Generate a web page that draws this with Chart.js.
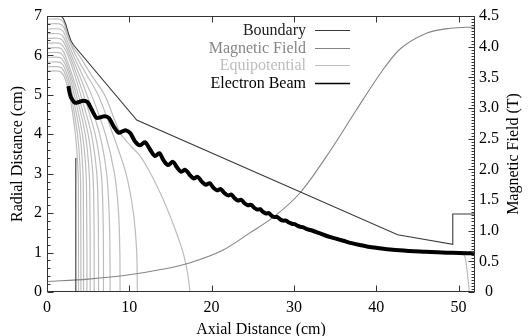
<!DOCTYPE html>
<html>
<head>
<meta charset="utf-8">
<script src="https://cdn.jsdelivr.net/npm/chart.js@4.4.0/dist/chart.umd.min.js"></script>
<style>
  html, body { margin: 0; padding: 0; background: #fff; }
  #canvas { display: block; }
</style>
</head>
<body>
<canvas id="canvas" width="528" height="336"></canvas>
<script>
// axis ticks
var xTicks = [0, 10, 20, 30, 40, 50];
var yTicks = [0, 1, 2, 3, 4, 5, 6, 7];
var fieldTicks = [0, 0.5, 1, 1.5, 2, 2.5, 3, 3.5, 4, 4.5];
var fieldLabels = ['0', '0.5', '1.0', '1.5', '2.0', '2.5', '3.0', '3.5', '4.0', '4.5'];

// [axial cm, radial cm]
var boundary = [[0, 7], [1.7, 7], [2.0, 6.93], [2.3, 6.78], [2.6, 6.56], [2.9, 6.38], [3.2, 6.27],
	[10.9, 4.36], [42.6, 1.45], [49.3, 1.21], [49.3, 1.98], [52, 1.98]];
var cathode = [[3.5, 0], [3.5, 3.4]];

// [axial cm, tesla]
var magField = [[0, 0.17], [5, 0.21], [10, 0.28], [14, 0.37], [17.2, 0.47], [21.4, 0.685], [24.6, 0.96],
	[27.5, 1.22], [30.7, 1.61], [34.5, 2.32], [37.5, 2.95], [40.8, 3.62], [42.8, 3.95], [46.1, 4.22],
	[49, 4.3], [52, 4.32]];

var equipotentials = [
	[[0, 5.6], [1.5, 5.6], [2.0, 5.5], [2.4, 5.28], [2.75, 5.0], [3.45, 4.0], [3.78, 3.0], [3.82, 2.0], [3.83, 1.0], [3.83, 0]],
	[[0, 5.71], [1.5, 5.71], [2.0, 5.62], [2.5, 5.35], [2.92, 5.0], [3.7, 4.0], [4.05, 3.0], [4.1, 2.0], [4.12, 1.0], [4.12, 0]],
	[[0, 5.83], [1.5, 5.83], [2.0, 5.74], [2.6, 5.42], [3.1, 5.0], [4.0, 4.0], [4.37, 3.0], [4.42, 2.0], [4.44, 1.0], [4.44, 0]],
	[[0, 5.95], [1.5, 5.95], [2.0, 5.86], [2.7, 5.5], [3.32, 5.0], [4.3, 4.0], [4.75, 3.0], [4.82, 2.0], [4.85, 1.0], [4.85, 0]],
	[[0, 6.07], [1.5, 6.07], [2.0, 5.98], [2.8, 5.55], [3.55, 5.0], [4.65, 4.0], [5.13, 3.0], [5.22, 2.0], [5.25, 1.0], [5.25, 0]],
	[[0, 6.19], [1.5, 6.19], [2.0, 6.1], [2.9, 5.6], [3.8, 5.0], [5.0, 4.0], [5.57, 3.0], [5.7, 2.0], [5.73, 1.0], [5.73, 0]],
	[[0, 6.31], [1.5, 6.31], [2.0, 6.22], [2.55, 6.0], [3.3, 5.55], [4.1, 5.0], [5.4, 4.0], [6.05, 3.0], [6.22, 2.0], [6.26, 1.0], [6.26, 0]],
	[[0, 6.43], [1.5, 6.43], [2.0, 6.35], [2.75, 6.0], [3.55, 5.55], [4.45, 5.0], [5.85, 4.0], [6.6, 3.0], [6.8, 2.0], [6.86, 1.0], [6.86, 0]],
	[[0, 6.55], [1.5, 6.55], [2.0, 6.47], [2.95, 6.0], [3.85, 5.55], [4.85, 5.0], [6.4, 4.0], [7.25, 3.0], [7.55, 2.0], [7.65, 1.0], [7.67, 0]],
	[[0, 6.67], [1.5, 6.67], [2.0, 6.6], [2.5, 6.35], [3.2, 6.0], [4.2, 5.55], [5.4, 5.0], [7.1, 4.0], [8.2, 3.0], [8.7, 2.0], [8.85, 1.0], [8.88, 0]],
	[[0, 6.8], [1.5, 6.8], [2.0, 6.73], [2.6, 6.42], [3.5, 6.0], [4.7, 5.55], [6.2, 5.0], [8.0, 4.0], [9.6, 3.0], [10.5, 2.0], [10.9, 1.0], [10.98, 0]],
	[[0, 6.92], [1.5, 6.92], [2.0, 6.84], [2.4, 6.6], [2.9, 6.3], [3.9, 6.0], [5.4, 5.5], [7.0, 5.0], [9.0, 4.0], [11.3, 3.45],
		[12.6, 3.0], [14.0, 2.4], [15.0, 1.9], [15.9, 1.4], [16.6, 0.95], [17.1, 0.45], [17.37, 0]],
	[[47, 1.0], [50.5, 0.98], [51.0, 0.6], [51.3, 0]]
];

var beam = [[2.6, 5.22], [2.75, 5.05], [2.95, 4.92], [3.4, 4.8], [3.9, 4.82], [4.4, 4.85], [4.9, 4.82], [5.4, 4.64],
	[6.0, 4.42], [6.5, 4.43], [7.0, 4.46], [7.5, 4.42], [8.1, 4.2], [8.7, 4.04], [9.2, 4.08], [9.6, 4.1], [10.1, 4.03],
	[10.7, 3.82], [11.3, 3.72], [11.9, 3.8], [12.5, 3.62], [13.1, 3.45], [13.65, 3.52], [14.1, 3.36], [14.7, 3.22],
	[15.3, 3.3], [15.8, 3.16], [16.3, 3.05], [16.8, 3.1], [17.3, 2.98], [17.8, 2.88], [18.3, 2.92], [18.8, 2.8],
	[19.3, 2.72], [19.75, 2.76], [20.2, 2.65], [20.65, 2.58], [21.1, 2.61], [21.55, 2.51], [22.0, 2.45], [22.4, 2.47],
	[22.8, 2.38], [23.2, 2.32], [23.6, 2.34], [24.0, 2.25], [24.4, 2.2], [24.8, 2.21], [25.2, 2.13], [25.55, 2.09],
	[25.9, 2.1], [26.25, 2.03], [26.6, 1.99], [26.95, 2.0], [27.3, 1.93], [27.65, 1.9], [28.0, 1.9], [28.35, 1.84],
	[28.7, 1.81], [29.05, 1.81], [29.4, 1.76], [29.75, 1.73], [30.1, 1.72], [30.45, 1.68], [30.8, 1.65], [31.15, 1.64],
	[31.5, 1.6], [31.85, 1.58], [32.2, 1.56], [33, 1.5], [34, 1.42], [35, 1.36], [36, 1.3], [37, 1.24], [38, 1.19],
	[39, 1.15], [40, 1.12], [42, 1.07], [44, 1.04], [46, 1.02], [48, 1.0], [50, 0.99], [52, 0.98]];

var SERIF = "'Liberation Serif', 'DejaVu Serif', serif";
Chart.defaults.font.family = SERIF;
Chart.defaults.font.size = 16;
Chart.defaults.color = '#000';

function pts(arr) {
	return arr.map(function (p) { return {x: p[0], y: p[1]}; });
}

var datasets = [];
datasets.push({label: 'Boundary', inKey: true, keyColor: '#222', data: pts(boundary),
	borderColor: '#3a3a3a', borderWidth: 1.1, tension: 0, order: 1, yAxisID: 'y'});
datasets.push({label: 'Magnetic Field', inKey: true, data: pts(magField),
	borderColor: '#858585', borderWidth: 1.1, cubicInterpolationMode: 'monotone', order: 2, yAxisID: 'y2'});
equipotentials.forEach(function (line, i) {
	datasets.push({label: 'Equipotential', inKey: i === 0, data: pts(line),
		borderColor: '#bdbdbd', borderWidth: 1.2, tension: 0.3, order: 3, yAxisID: 'y'});
});
datasets.push({label: 'Electron Beam', inKey: true, keyWidth: 1.4, data: pts(beam),
	borderColor: '#000', borderWidth: 4, tension: 0.35, order: 0, yAxisID: 'y'});
datasets.push({label: 'cathode', data: pts(cathode),
	borderColor: '#3a3a3a', borderWidth: 1.1, order: 1, yAxisID: 'y'});

function setTicks(list) {
	return function (scale) {
		scale.ticks = list.map(function (v) { return {value: v}; });
	};
}

// gnuplot style frame with inward ticks
var frameTicks = {
	id: 'frameTicks',
	afterDatasetsDraw: function (chart) {
		var ctx = chart.ctx, a = chart.chartArea;
		var sx = chart.scales.x, sy = chart.scales.y, sr = chart.scales.y2;
		var L = Math.round(a.left) + 0.5, R = Math.round(a.right) - 0.5;
		var T = Math.round(a.top) + 0.5, B = Math.round(a.bottom) - 0.5;
		ctx.save();
		ctx.strokeStyle = '#333';
		ctx.lineWidth = 1;
		ctx.beginPath();
		xTicks.forEach(function (v) {
			var p = Math.round(sx.getPixelForValue(v)) + 0.5;
			ctx.moveTo(p, B); ctx.lineTo(p, B - 6);
			ctx.moveTo(p, T); ctx.lineTo(p, T + 6);
		});
		for (var v = 0; v <= 7.001; v += 0.2) {
			var q = Math.round(sy.getPixelForValue(v)) + 0.5;
			var major = Math.abs(v - Math.round(v)) < 0.01;
			ctx.moveTo(L, q); ctx.lineTo(L + (major ? 6 : 3), q);
		}
		for (var w = 0; w <= 4.501; w += 0.05) {
			var r = Math.round(sr.getPixelForValue(w)) + 0.5;
			var maj = Math.abs(w * 2 - Math.round(w * 2)) < 0.01;
			ctx.moveTo(R, r); ctx.lineTo(R - (maj ? 6 : 3), r);
		}
		ctx.stroke();
		ctx.strokeRect(L, T, R - L, B - T);
		ctx.restore();
	}
};

// key in the gnuplot way (text, then sample) and the right axis title read bottom to top
var keyBox = {
	id: 'keyBox',
	afterDraw: function (chart) {
		var ctx = chart.ctx, a = chart.chartArea;
		var rows = chart.data.datasets.filter(function (d) { return d.inKey; });
		ctx.save();
		ctx.font = '16px ' + SERIF;
		ctx.textAlign = 'right';
		ctx.textBaseline = 'middle';
		rows.forEach(function (d, i) {
			var y = Math.round(a.top + 14 + i * 17.6) + 0.5;
			ctx.fillStyle = d.keyColor || d.borderColor;
			ctx.fillText(d.label, a.left + 259, y);
			ctx.strokeStyle = d.borderColor;
			ctx.lineWidth = d.keyWidth || 1.2;
			ctx.beginPath();
			ctx.moveTo(a.left + 268, y);
			ctx.lineTo(a.left + 303, y);
			ctx.stroke();
		});
		var s = chart.scales.y2;
		ctx.translate(s.right - 14, (a.top + a.bottom) / 2);
		ctx.rotate(-Math.PI / 2);
		ctx.textAlign = 'center';
		ctx.fillStyle = '#000';
		ctx.fillText('Magnetic Field (T)', 0, 0);
		ctx.restore();
	}
};

window.onload = function () {
	var ctx = document.getElementById('canvas').getContext('2d');
	window.myChart = new Chart(ctx, {
		type: 'line',
		data: {datasets: datasets},
		options: {
			responsive: false,
			animation: false,
			events: [],
			layout: {padding: {top: 16, left: 0, right: 0, bottom: 0}},
			elements: {point: {radius: 0}},
			plugins: {legend: {display: false}, tooltip: {enabled: false}},
			scales: {
				x: {
					type: 'linear', position: 'bottom', min: 0, max: 52,
					afterBuildTicks: setTicks(xTicks),
					afterFit: function (s) { s.height = 44; },
					grid: {display: false, drawTicks: false},
					border: {display: false},
					ticks: {padding: 6, maxRotation: 0, autoSkip: false},
					title: {display: true, text: 'Axial Distance (cm)', font: {size: 16, lineHeight: 1}, padding: {top: 0, bottom: -2}}
				},
				y: {
					type: 'linear', position: 'left', min: 0, max: 7,
					afterBuildTicks: setTicks(yTicks),
					afterFit: function (s) { s.width = 47; },
					grid: {display: false, drawTicks: false},
					border: {display: false},
					ticks: {padding: 5},
					title: {display: true, text: 'Radial Distance (cm)', font: {size: 16, lineHeight: 1}, padding: {top: 10, bottom: 0}}
				},
				y2: {
					type: 'linear', position: 'right', min: 0, max: 4.5,
					afterBuildTicks: setTicks(fieldTicks),
					afterFit: function (s) { s.width = 53; },
					grid: {display: false, drawTicks: false},
					border: {display: false},
					ticks: {
						padding: 4, crossAlign: 'center',
						callback: function (v) { return fieldLabels[fieldTicks.indexOf(v)]; }
					},
					title: {display: false}
				}
			}
		},
		plugins: [frameTicks, keyBox]
	});
};
</script>
</body>
</html>
